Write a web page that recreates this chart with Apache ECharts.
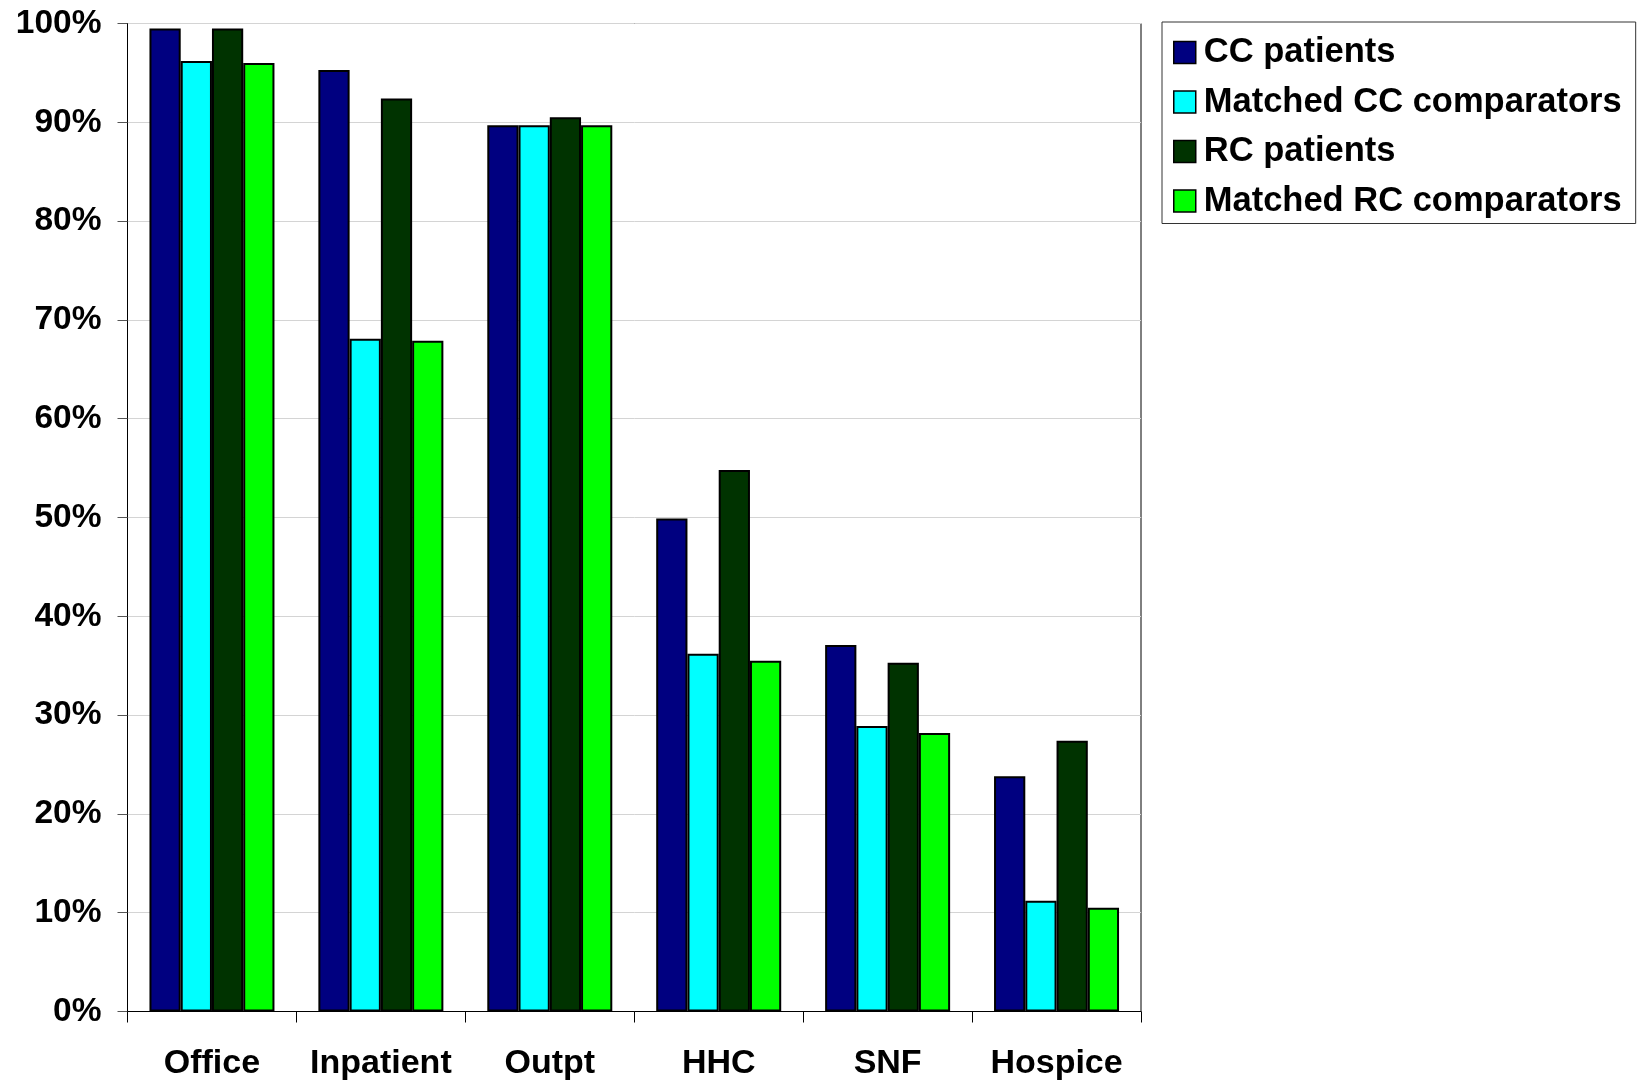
<!DOCTYPE html>
<html>
<head>
<meta charset="utf-8">
<script src="https://cdn.jsdelivr.net/npm/echarts@6/dist/echarts.min.js"></script>
<style>html,body{margin:0;padding:0;background:#fff;}#c{width:1637px;height:1083px;}</style>
</head>
<body>
<div id="c"></div>
<script>
const categories = ['Office', 'Inpatient', 'Outpt', 'HHC', 'SNF', 'Hospice'];
const seriesNames = ['CC patients', 'Matched CC comparators', 'RC patients', 'Matched RC comparators'];
const ccPatients = [99.5, 95.3, 89.7, 49.9, 37.1, 23.8];
const matchedCC = [96.2, 68.1, 89.7, 36.2, 28.9, 11.2];
const rcPatients = [99.5, 92.4, 90.5, 54.8, 35.3, 27.4];
const matchedRC = [96.0, 67.9, 89.7, 35.5, 28.2, 10.5];
const colors = ['#000080', '#00FFFF', '#003300', '#00FF00'];
const allData = [ccPatients, matchedCC, rcPatients, matchedRC];

const font = '"Liberation Sans", Arial, sans-serif';
const chart = echarts.init(document.getElementById('c'));
chart.setOption({
  animation: false,
  backgroundColor: '#fff',
  grid: {left: 127.5, right: 496, top: 23.5, bottom: 71.5, show: true, borderColor: '#000', borderWidth: 1},
  legend: {
    orient: 'vertical', left: 1162, top: 22,
    padding: [13, 14, 5, 11],
    borderColor: '#333', borderWidth: 1,
    itemWidth: 22, itemHeight: 22, itemGap: 14.5,
    icon: 'rect',
    textStyle: {fontFamily: font, fontWeight: 'bold', fontSize: 34.5, color: '#000', padding: [0,0,0,3]},
    itemStyle: {borderColor: '#000', borderWidth: 1.5},
    data: seriesNames
  },
  xAxis: {
    type: 'category', data: categories,
    axisLine: {lineStyle: {color: '#000', width: 1}},
    axisTick: {show: true, length: 11, interval: 0, lineStyle: {color: '#000'}},
    axisLabel: {interval: 0, fontFamily: font, fontWeight: 'bold', fontSize: 34, color: '#000', margin: 35}
  },
  yAxis: {
    type: 'value', min: 0, max: 100, interval: 10,
    axisLine: {show: true, lineStyle: {color: '#000', width: 1}},
    axisTick: {show: true, length: 10, lineStyle: {color: '#555'}},
    splitLine: {lineStyle: {color: '#d4d4d4', width: 1}},
    axisLabel: {fontFamily: font, fontWeight: 'bold', fontSize: 33.5, color: '#000', margin: 26, formatter: '{value}%'}
  },
  series: seriesNames.map((n, i) => ({
    name: n, type: 'bar', data: allData[i],
    barGap: '0%', barCategoryGap: '26%',
    itemStyle: {color: colors[i], borderColor: '#000', borderWidth: 2}
  }))
});
</script>
</body>
</html>
